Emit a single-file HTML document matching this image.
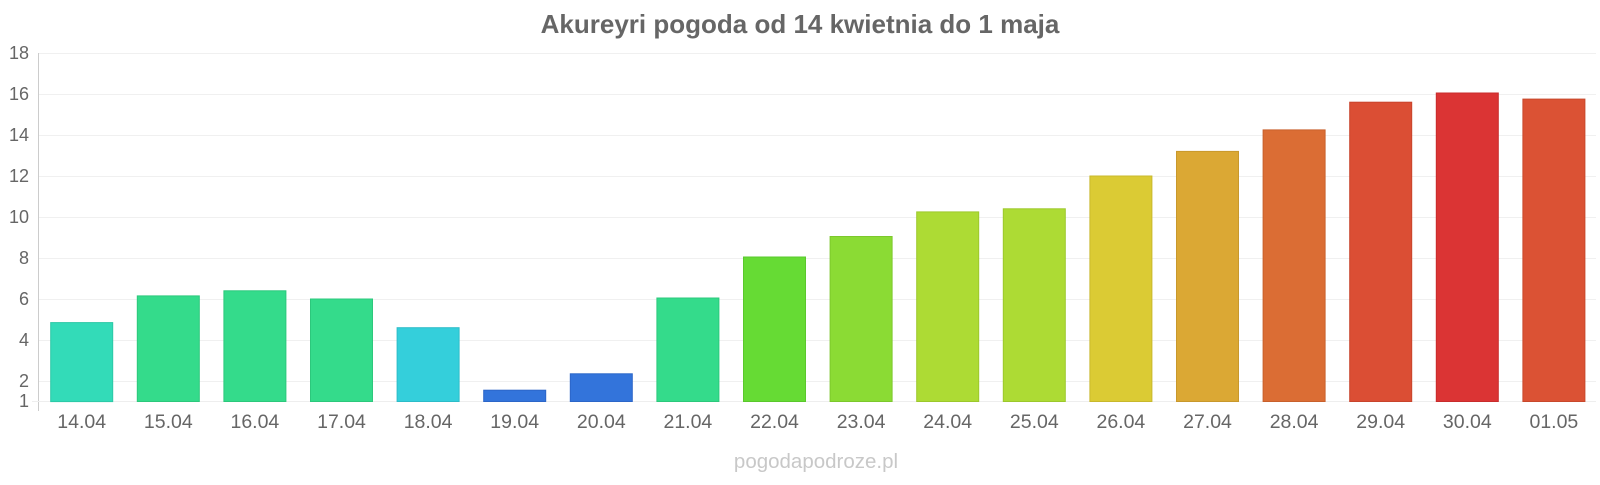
<!DOCTYPE html>
<html><head><meta charset="utf-8"><style>
body{margin:0;background:#fff;}
svg text{font-family:"Liberation Sans",Arial,sans-serif;}
</style></head><body>
<svg width="1600" height="480" xmlns="http://www.w3.org/2000/svg">
<text x="800" y="33" text-anchor="middle" font-size="26" font-weight="bold" fill="#666">Akureyri pogoda od 14 kwietnia do 1 maja</text>
<g stroke="#f0f0f0" stroke-width="1">
<line x1="38" x2="1596" y1="53.5" y2="53.5"/><line x1="38" x2="1596" y1="94.5" y2="94.5"/>
<line x1="38" x2="1596" y1="135.5" y2="135.5"/><line x1="38" x2="1596" y1="176.5" y2="176.5"/>
<line x1="38" x2="1596" y1="217.5" y2="217.5"/><line x1="38" x2="1596" y1="258.5" y2="258.5"/>
<line x1="38" x2="1596" y1="299.5" y2="299.5"/><line x1="38" x2="1596" y1="340.5" y2="340.5"/>
<line x1="38" x2="1596" y1="381.5" y2="381.5"/>
</g>
<line x1="38.5" x2="38.5" y1="53" y2="411" stroke="#ccc"/>
<line x1="32" x2="1596" y1="401.5" y2="401.5" stroke="#eee"/>
<g font-size="18" fill="#666" text-anchor="end">
<text x="29" y="59">18</text><text x="29" y="100">16</text><text x="29" y="141">14</text>
<text x="29" y="182">12</text><text x="29" y="223">10</text><text x="29" y="264">8</text>
<text x="29" y="305">6</text><text x="29" y="346">4</text><text x="29" y="387">2</text><text x="29" y="407">1</text>
</g>
<g stroke-width="1">
<rect x="50.7" y="322.6" width="62" height="79" fill="#33dbb8" stroke="#2cc8a6"/>
<rect x="137.3" y="295.9" width="62" height="105.6" fill="#34db8b" stroke="#2cc87c"/>
<rect x="223.9" y="290.8" width="62" height="110.7" fill="#34db8b" stroke="#2cc87c"/>
<rect x="310.5" y="299" width="62" height="102.5" fill="#34db8b" stroke="#2cc87c"/>
<rect x="397.1" y="327.7" width="62" height="73.8" fill="#34cfdb" stroke="#2cbcc8"/>
<rect x="483.7" y="390.2" width="62" height="11.3" fill="#3374db" stroke="#2c66c8"/>
<rect x="570.3" y="373.8" width="62" height="27.7" fill="#3374db" stroke="#2c66c8"/>
<rect x="656.9" y="298" width="62" height="103.5" fill="#34db8b" stroke="#2cc87c"/>
<rect x="743.5" y="257" width="62" height="144.5" fill="#66db34" stroke="#5ac82c"/>
<rect x="830.1" y="236.5" width="62" height="165" fill="#8bdb34" stroke="#7cc82c"/>
<rect x="916.7" y="211.9" width="62" height="189.6" fill="#addb34" stroke="#9cc82c"/>
<rect x="1003.3" y="208.8" width="62" height="192.7" fill="#addb34" stroke="#9cc82c"/>
<rect x="1089.9" y="176" width="62" height="225.5" fill="#dbcb34" stroke="#c8b82c"/>
<rect x="1176.5" y="151.4" width="62" height="250.1" fill="#dba834" stroke="#c8982c"/>
<rect x="1263.1" y="129.9" width="62" height="271.6" fill="#db6d34" stroke="#c8602c"/>
<rect x="1349.7" y="102.2" width="62" height="299.3" fill="#db4e34" stroke="#c8442c"/>
<rect x="1436.3" y="93" width="62" height="308.5" fill="#db3434" stroke="#c82c2c"/>
<rect x="1522.9" y="99.1" width="62" height="302.4" fill="#db5234" stroke="#c8482c"/>
</g>
<g font-size="19.5" fill="#666" text-anchor="middle">
<text x="81.7" y="428">14.04</text><text x="168.3" y="428">15.04</text><text x="254.9" y="428">16.04</text>
<text x="341.5" y="428">17.04</text><text x="428.1" y="428">18.04</text><text x="514.7" y="428">19.04</text>
<text x="601.3" y="428">20.04</text><text x="687.9" y="428">21.04</text><text x="774.5" y="428">22.04</text>
<text x="861.1" y="428">23.04</text><text x="947.7" y="428">24.04</text><text x="1034.3" y="428">25.04</text>
<text x="1120.9" y="428">26.04</text><text x="1207.5" y="428">27.04</text><text x="1294.1" y="428">28.04</text>
<text x="1380.7" y="428">29.04</text><text x="1467.3" y="428">30.04</text><text x="1553.9" y="428">01.05</text>
</g>
<text x="816" y="468" text-anchor="middle" font-size="20.5" fill="#c8c8c8">pogodapodroze.pl</text>
</svg>
</body></html>
